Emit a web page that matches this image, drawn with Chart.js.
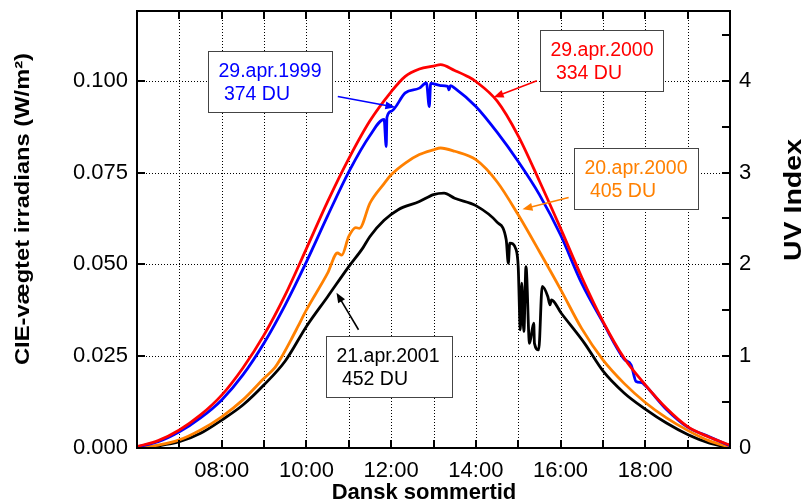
<!DOCTYPE html>
<html>
<head>
<meta charset="utf-8">
<script src="https://cdn.jsdelivr.net/npm/chart.js@4.4.0/dist/chart.umd.min.js"></script>
<style>
  html, body { margin: 0; padding: 0; background: #fff; }
</style>
</head>
<body>
<canvas id="uv-chart" width="803" height="502"></canvas>
<script>
// data (hh:mm, CIE-weighted W/m2)
const timesRed = ['06:00','06:30','07:00','07:30','08:00','08:30','09:00','09:30','10:00','10:30','11:00','11:30','12:00','12:20','12:40','13:00','13:10','13:30','13:50','14:00','14:30','15:00','15:30','16:00','16:30','17:00','17:30','18:00','18:30','19:00','19:30','20:00'];
const valsRed = [0.0004,0.0020,0.0049,0.0090,0.0144,0.0218,0.0308,0.0417,0.0543,0.0671,0.0788,0.0891,0.0970,0.1012,0.1032,0.1040,0.1044,0.1028,0.1010,0.0998,0.0945,0.0850,0.0727,0.0598,0.0465,0.0345,0.0245,0.0172,0.0108,0.0058,0.0030,0.0008];

const timesBlue = ['06:00','06:30','07:00','07:30','08:00','08:30','09:00','09:30','10:00','10:30','11:00','11:30','11:50','11:53','11:54','12:00','12:20','12:40','12:50','12:54','12:56','13:10','13:20','13:22','13:24','13:30','14:00','14:30','15:00','15:30','16:00','16:30','17:00','17:30','17:40','17:47','17:55','18:00','18:30','19:00','19:30','20:00'];
const valsBlue = [0.0003,0.0017,0.0044,0.0082,0.0131,0.0199,0.0286,0.0390,0.0507,0.0632,0.0752,0.0851,0.0895,0.0821,0.0900,0.0917,0.0967,0.0980,0.0994,0.0930,0.0993,0.0987,0.0985,0.0975,0.0987,0.0980,0.0930,0.0860,0.0780,0.0690,0.0580,0.0448,0.0342,0.0242,0.0226,0.0181,0.0178,0.0170,0.0105,0.0057,0.0031,0.0006];

const timesOrange = ['06:00','06:30','07:00','07:30','08:00','08:30','09:00','09:15','09:24','09:38','09:48','10:00','10:30','10:44','10:50','11:00','11:10','11:15','11:30','11:50','12:00','12:20','12:40','13:00','13:10','13:30','14:00','14:30','15:00','15:30','16:00','16:30','17:00','17:30','18:00','18:30','19:00','19:30','20:00'];
const valsOrange = [0.0000,0.0008,0.0022,0.0049,0.0085,0.0131,0.0190,0.0218,0.0245,0.0294,0.0331,0.0376,0.0476,0.0531,0.0525,0.0576,0.0600,0.0598,0.0667,0.0720,0.0744,0.0776,0.0799,0.0812,0.0817,0.0808,0.0785,0.0725,0.0635,0.0535,0.0432,0.0325,0.0240,0.0176,0.0124,0.0082,0.0048,0.0020,0.0002];

const timesBlack = ['06:00','06:30','07:00','07:30','08:00','08:30','09:00','09:30','10:00','10:30','11:00','11:20','11:30','11:50','12:10','12:40','13:00','13:15','13:30','14:00','14:30','14:43','14:46','14:48','14:57','15:00','15:03','15:05','15:08','15:11','15:16','15:22','15:23','15:29','15:34','15:42','15:45','15:47','16:01','16:34','17:00','17:30','18:00','18:30','19:00','19:30','20:00'];
const valsBlack = [0.0000,0.0006,0.0017,0.0040,0.0076,0.0117,0.0172,0.0237,0.0331,0.0412,0.0494,0.0545,0.0576,0.0620,0.0649,0.0671,0.0690,0.0694,0.0680,0.0660,0.0615,0.0567,0.0503,0.0558,0.0540,0.0494,0.0322,0.0449,0.0317,0.0494,0.0285,0.0340,0.0285,0.0267,0.0440,0.0412,0.0390,0.0403,0.0367,0.0285,0.0210,0.0150,0.0106,0.0068,0.0037,0.0014,0.0001];

const timeTicks = ['08:00','10:00','12:00','14:00','16:00','18:00'];
const irrTicks = [0.000, 0.025, 0.050, 0.075, 0.100];
const uvTicks = [0, 1, 2, 3, 4];

const yMax = 0.119;
const uvUnit = 0.025;   // 1 UV index = 0.025 W/m2

const notes = [
    { lines: ['29.apr.1999', ' 374 DU'], color: '#0000ff', box: [7.67, 10.60, 0.1080], arrow: [10.74, 0.0957, 12.10, 0.0928] },
    { lines: ['29.apr.2000', ' 334 DU'], color: '#ff0000', box: [15.51, 18.41, 0.1139], arrow: [15.44, 0.1000, 14.42, 0.0955] },
    { lines: ['20.apr.2000', ' 405 DU'], color: '#ff8000', box: [16.32, 19.25, 0.0817], arrow: [16.19, 0.0682, 15.10, 0.0650] },
    { lines: ['21.apr.2001', ' 452 DU'], color: '#000000', box: [10.47, 13.44, 0.0305], arrow: [11.23, 0.0322, 10.71, 0.0423] }
];

const FONT = "'Liberation Sans', Arial, sans-serif";

function toHours (t) {
    const [h, m] = t.split(':').map(Number);
    return h + m / 60;
}
function toPoints (times, vals) {
    return times.map((t, i) => ({ x: toHours(t), y: vals[i] }));
}
function hhmm (v) {
    const h = Math.round(v);
    return (h < 10 ? '0' : '') + h + ':00';
}

function arrow (ctx, x0, y0, x1, y1, color) {
    const a = Math.atan2(y1 - y0, x1 - x0);
    const len = 10, w = 4;
    ctx.strokeStyle = color;
    ctx.fillStyle = color;
    ctx.lineWidth = 1.6;
    ctx.beginPath();
    ctx.moveTo(x0, y0);
    ctx.lineTo(x1 - Math.cos(a) * len * 0.8, y1 - Math.sin(a) * len * 0.8);
    ctx.stroke();
    ctx.beginPath();
    ctx.moveTo(x1, y1);
    ctx.lineTo(x1 - Math.cos(a) * len + Math.sin(a) * w, y1 - Math.sin(a) * len - Math.cos(a) * w);
    ctx.lineTo(x1 - Math.cos(a) * len - Math.sin(a) * w, y1 - Math.sin(a) * len + Math.cos(a) * w);
    ctx.closePath();
    ctx.fill();
}

// vertical title, stretched along the text to a given length
function sideTitle (ctx, text, x, yMid, size, length) {
    ctx.save();
    ctx.font = 'bold ' + size + 'px ' + FONT;
    const w = ctx.measureText(text).width;
    ctx.translate(x, yMid);
    ctx.rotate(-Math.PI / 2);
    ctx.scale(length / w, 1);
    ctx.textAlign = 'center';
    ctx.textBaseline = 'alphabetic';
    ctx.fillStyle = '#000';
    ctx.fillText(text, 0, 0);
    ctx.restore();
}

const framePlugin = {
    id: 'frame',
    beforeDatasetsDraw (chart) {
        const { ctx, chartArea: a, scales } = chart;
        ctx.save();
        ctx.strokeStyle = '#000';
        ctx.lineWidth = 1;
        ctx.setLineDash([1, 2]);
        for (let h = 7; h <= 19; h++) {
            const x = Math.round(scales.x.getPixelForValue(h)) + 0.5;
            ctx.beginPath(); ctx.moveTo(x, a.top); ctx.lineTo(x, a.bottom); ctx.stroke();
        }
        irrTicks.slice(1).forEach(v => {
            const y = Math.round(scales.y.getPixelForValue(v)) + 0.5;
            ctx.beginPath(); ctx.moveTo(a.left, y); ctx.lineTo(a.right, y); ctx.stroke();
        });
        ctx.restore();
    },
    afterDatasetsDraw (chart) {
        const { ctx, chartArea: a, scales } = chart;
        ctx.save();
        ctx.strokeStyle = '#000';
        ctx.lineWidth = 2;
        const tl = 8;
        ctx.beginPath();
        for (let h = 7; h <= 19; h++) {
            const x = Math.round(scales.x.getPixelForValue(h));
            ctx.moveTo(x, a.bottom); ctx.lineTo(x, a.bottom - tl);
            ctx.moveTo(x, a.top); ctx.lineTo(x, a.top + tl);
        }
        irrTicks.slice(1).forEach(v => {
            const y = Math.round(scales.y.getPixelForValue(v));
            ctx.moveTo(a.left, y); ctx.lineTo(a.left + tl, y);
        });
        for (let u = 0.5; u < yMax / uvUnit; u += 0.5) {
            const y = Math.round(scales.uv.getPixelForValue(u));
            ctx.moveTo(a.right, y); ctx.lineTo(a.right - tl, y);
        }
        ctx.stroke();
        ctx.strokeRect(a.left, a.top, a.right - a.left, a.bottom - a.top);

        // text boxes with arrows
        notes.forEach(n => {
            const x0 = Math.round(scales.x.getPixelForValue(n.box[0])) + 0.5;
            const x1 = Math.round(scales.x.getPixelForValue(n.box[1])) + 0.5;
            const y0 = Math.round(scales.y.getPixelForValue(n.box[2])) + 0.5;
            const h = 61;
            ctx.fillStyle = '#fff';
            ctx.fillRect(x0, y0, x1 - x0, h);
            ctx.strokeStyle = '#444';
            ctx.lineWidth = 1;
            ctx.strokeRect(x0, y0, x1 - x0, h);
            ctx.fillStyle = n.color;
            ctx.font = '19.5px ' + FONT;
            ctx.textAlign = 'left';
            ctx.textBaseline = 'alphabetic';
            ctx.fillText(n.lines[0], x0 + 10, y0 + 25);
            ctx.fillText(n.lines[1], x0 + 10, y0 + 48);
            arrow(ctx,
                scales.x.getPixelForValue(n.arrow[0]), scales.y.getPixelForValue(n.arrow[1]),
                scales.x.getPixelForValue(n.arrow[2]), scales.y.getPixelForValue(n.arrow[3]), n.color);
        });
        ctx.restore();
    },
    afterDraw (chart) {
        const ctx = chart.ctx;
        ctx.save();
        ctx.fillStyle = '#000';
        ctx.font = 'bold 22px ' + FONT;
        ctx.textAlign = 'center';
        ctx.textBaseline = 'alphabetic';
        ctx.fillText('Dansk sommertid', 424, 499);
        ctx.restore();

        sideTitle(ctx, 'CIE-vægtet irradians (W/m²)', 29, 209, 19.5, 312);
        sideTitle(ctx, 'UV Index', 801, 200, 23, 122);
    }
};

const canvas = document.getElementById('uv-chart');
const lineStyle = { borderWidth: 2.8, pointRadius: 0, fill: false, cubicInterpolationMode: 'monotone' };
const noPadV = s => { s.paddingTop = 0; s.paddingBottom = 0; };

const uvChart = new Chart(canvas, {
    type: 'line',
    data: {
        datasets: [
            { label: '29.apr.2000', data: toPoints(timesRed, valsRed), borderColor: '#ff0000', ...lineStyle },
            { label: '29.apr.1999', data: toPoints(timesBlue, valsBlue), borderColor: '#0000ff', ...lineStyle },
            { label: '20.apr.2000', data: toPoints(timesOrange, valsOrange), borderColor: '#ff8000', ...lineStyle },
            { label: '21.apr.2001', data: toPoints(timesBlack, valsBlack), borderColor: '#000000', ...lineStyle }
        ]
    },
    options: {
        responsive: false,
        animation: false,
        layout: { padding: { top: 11, left: 0, right: 0, bottom: 0 } },
        plugins: { legend: { display: false }, tooltip: { enabled: false } },
        scales: {
            x: {
                type: 'linear', min: 6, max: 20,
                grid: { display: false, drawTicks: false },
                border: { display: false },
                ticks: {
                    stepSize: 1, autoSkip: false, maxRotation: 0, padding: 10,
                    color: '#000', font: { family: FONT, size: 22 },
                    callback: v => timeTicks.includes(hhmm(v)) ? hhmm(v) : ''
                },
                afterFit: s => { s.height = 54; s.paddingLeft = 0; s.paddingRight = 0; }
            },
            y: {
                position: 'left', min: 0, max: yMax,
                grid: { display: false, drawTicks: false },
                border: { display: false },
                ticks: {
                    stepSize: 0.025, padding: 9,
                    color: '#000', font: { family: FONT, size: 22 },
                    callback: v => irrTicks.some(t => Math.abs(t - v) < 1e-6) ? v.toFixed(3) : ''
                },
                afterFit: s => { s.width = 137; noPadV(s); }
            },
            uv: {
                position: 'right', min: 0, max: yMax / uvUnit,
                grid: { display: false, drawTicks: false },
                border: { display: false },
                ticks: {
                    stepSize: 1, padding: 9,
                    color: '#000', font: { family: FONT, size: 22 },
                    callback: v => uvTicks.includes(v) ? String(v) : ''
                },
                afterFit: s => { s.width = 73; noPadV(s); }
            }
        }
    },
    plugins: [framePlugin]
});
</script>
</body>
</html>
